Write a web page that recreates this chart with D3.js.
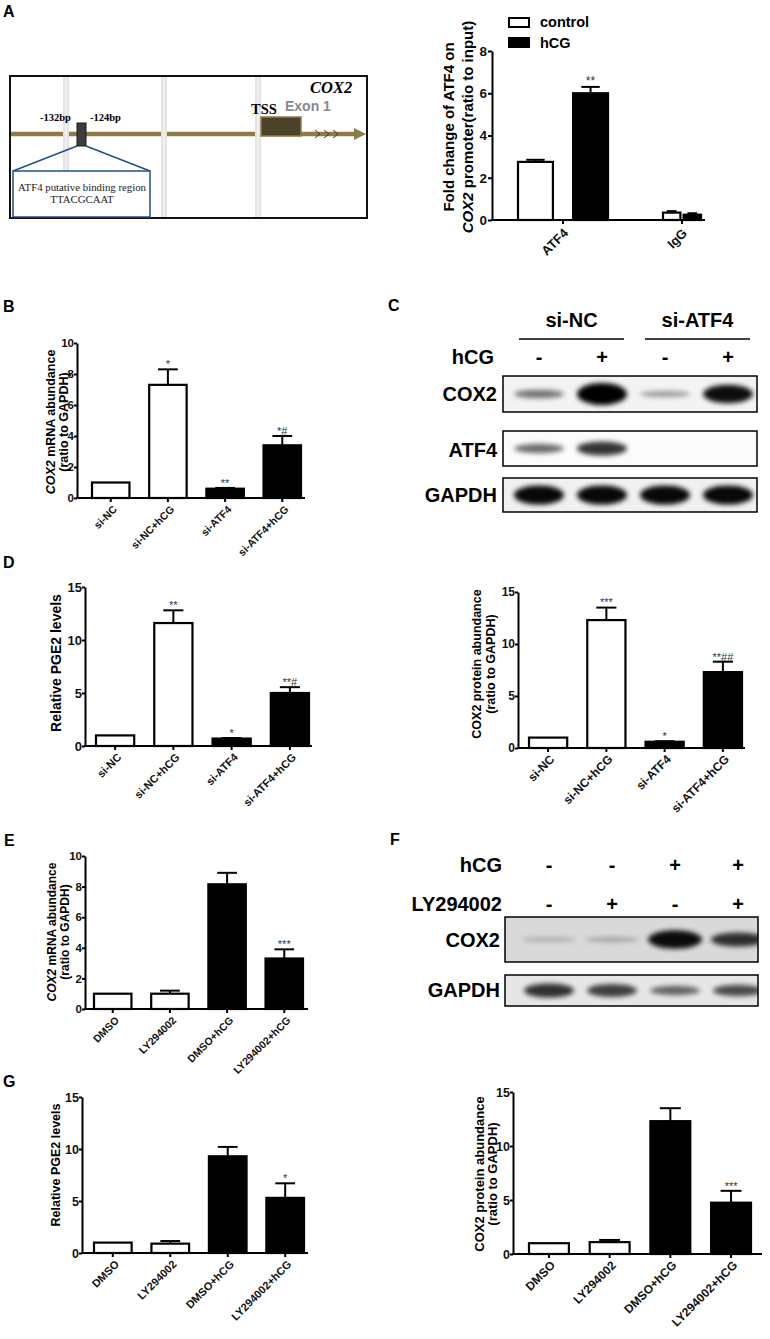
<!DOCTYPE html>
<html>
<head>
<meta charset="utf-8">
<script src="https://cdn.jsdelivr.net/npm/d3@7"></script>
<style>
  body { margin: 0; background: #fff; }
  svg { display: block; font-family: "Liberation Sans", Arial, sans-serif; }
</style>
</head>
<body>
<script>
// ---------- data ----------
// A: ChIP, fold change of ATF4 on COX2 promoter
const chipTargets = ["ATF4", "IgG"];
const chipSeries = ["control", "hCG"];
const chipControl = [2.75, 0.35];
const chipControlErr = [0.1, 0.07];
const chipHCG = [6.0, 0.25];
const chipHCGErr = [0.3, 0.07];
const chipMarks = [["", "**"], ["", ""]];
const chipTicks = [0, 2, 4, 6, 8];

// B, D: siRNA groups
const siGroups = ["si-NC", "si-NC+hCG", "si-ATF4", "si-ATF4+hCG"];
const siFill = ["#fff", "#fff", "#000", "#000"];
const mrnaB = [1, 7.3, 0.6, 3.4];
const mrnaBErr = [0, 1.0, 0.05, 0.6];
const mrnaBMarks = ["", "*", "**", "*#"];
const pgeD = [1, 11.6, 0.7, 5.0];
const pgeDErr = [0, 1.2, 0.05, 0.55];
const pgeDMarks = ["", "**", "*", "**#"];
const protD = [1, 12.3, 0.6, 7.3];
const protDErr = [0, 1.2, 0.05, 1.0];
const protDMarks = ["", "***", "*", "**##"];

// E, G: LY294002 groups
const lyGroups = ["DMSO", "LY294002", "DMSO+hCG", "LY294002+hCG"];
const lyFill = ["#fff", "#fff", "#000", "#000"];
const mrnaE = [1, 1.0, 8.15, 3.3];
const mrnaEErr = [0, 0.2, 0.75, 0.6];
const mrnaEMarks = ["", "", "", "***"];
const pgeG = [1, 0.9, 9.3, 5.3];
const pgeGErr = [0, 0.25, 0.9, 1.4];
const pgeGMarks = ["", "", "", "*"];
const protG = [1, 1.1, 12.3, 4.75];
const protGErr = [0, 0.2, 1.2, 1.1];
const protGMarks = ["", "", "", "***"];

const ticks10 = [0, 2, 4, 6, 8, 10];
const ticks15 = [0, 5, 10, 15];

// blots: relative band intensity per lane (0..1)
const lanes = ["1", "2", "3", "4"];
const blotCHcg = ["-", "+", "-", "+"];
const blotCCox2 = [0.5, 1.0, 0.35, 0.9];
const blotCAtf4 = [0.55, 0.75, 0, 0];
const blotCGapdh = [0.92, 0.92, 0.92, 0.92];
const blotFHcg = ["-", "-", "+", "+"];
const blotFLy = ["-", "+", "-", "+"];
const blotFCox2 = [0.2, 0.25, 0.9, 0.75];
const blotFGapdh = [0.75, 0.7, 0.55, 0.65];

// ---------- page ----------
const svg = d3.select("body").append("svg").attr("width", 770).attr("height", 1339);
svg.append("rect").attr("width", 770).attr("height", 1339).attr("fill", "#fff");
const defs = svg.append("defs");
const blur = defs.append("filter").attr("id", "blur")
  .attr("x", "-30%").attr("y", "-100%").attr("width", "160%").attr("height", "300%");
blur.append("feGaussianBlur").attr("stdDeviation", 2.6);

// panel letters
[["A", 3, 17], ["B", 3, 312], ["C", 388, 311], ["D", 3, 568], ["E", 4, 846], ["F", 390, 845], ["G", 3, 1087]]
  .forEach(d => svg.append("text").attr("x", d[1]).attr("y", d[2]).text(d[0])
    .attr("font-size", 16).attr("font-weight", "bold"));

function yLabel(cy, lines, size) {
  // lines: [{x, parts:[[text, italic]]}]
  lines.forEach(l => {
    const t = svg.append("text")
      .attr("transform", `translate(${l.x},${cy}) rotate(-90)`)
      .attr("text-anchor", "middle").attr("font-size", size).attr("font-weight", "bold");
    l.parts.forEach(p => t.append("tspan").text(p[0]).attr("font-style", p[1] ? "italic" : null));
  });
}

function styleAxis(g, size) {
  g.selectAll("path, line").attr("stroke", "#000").attr("stroke-width", 2);
  g.selectAll("text").attr("font-size", size).attr("font-weight", "bold").attr("fill", "#111")
    .attr("font-family", "Liberation Sans, Arial, sans-serif");
}

function barPanel(p) {
  const g = svg.append("g");
  const y = d3.scaleLinear().domain([0, p.max]).range([p.y0, p.yTop]);
  const x = d3.scaleBand().domain(p.groups).range(p.bars).paddingInner(0.31);
  const bw = x.bandwidth();

  const yg = g.append("g").attr("transform", `translate(${p.left},0)`)
    .call(d3.axisLeft(y).tickValues(p.ticks).tickSize(3).tickSizeOuter(0).tickPadding(0).tickFormat(d3.format("d")));
  styleAxis(yg, p.tickSize);

  const rows = p.groups.map((k, i) => ({ k, v: p.values[i], e: p.errors[i], f: p.fills[i], m: p.marks[i] }));

  // error bars (upward only)
  const eb = g.selectAll(".err").data(rows.filter(d => d.e > 0)).join("g");
  eb.append("line").attr("x1", d => x(d.k) + bw / 2).attr("x2", d => x(d.k) + bw / 2)
    .attr("y1", d => y(d.v)).attr("y2", d => y(d.v + d.e)).attr("stroke", "#000").attr("stroke-width", 2);
  eb.append("line").attr("x1", d => x(d.k) + bw * 0.25).attr("x2", d => x(d.k) + bw * 0.75)
    .attr("y1", d => y(d.v + d.e)).attr("y2", d => y(d.v + d.e)).attr("stroke", "#000").attr("stroke-width", 2);

  g.selectAll(".bar").data(rows).join("rect")
    .attr("x", d => x(d.k) + 1).attr("width", bw - 2)
    .attr("y", d => y(d.v)).attr("height", d => p.y0 - y(d.v))
    .attr("fill", d => d.f).attr("stroke", "#000").attr("stroke-width", 2.2);

  g.selectAll(".mark").data(rows.filter(d => d.m)).join("text")
    .attr("x", d => x(d.k) + bw / 2).attr("y", d => y(d.v + d.e) - 5 + p.markSize * 0.35)
    .attr("text-anchor", "middle").attr("font-size", p.markSize).attr("fill", "#333")
    .text(d => d.m);

  // x axis
  g.append("line").attr("x1", p.left - 1).attr("x2", p.right).attr("y1", p.y0).attr("y2", p.y0)
    .attr("stroke", "#000").attr("stroke-width", 2);
  g.selectAll(".xt").data(p.groups).join("line")
    .attr("x1", d => x(d) + bw / 2).attr("x2", d => x(d) + bw / 2)
    .attr("y1", p.y0).attr("y2", p.y0 + 4).attr("stroke", "#000").attr("stroke-width", 2);
  g.selectAll(".xl").data(p.groups).join("text")
    .attr("transform", d => `translate(${x(d) + bw / 2 + 7},${p.y0 + 12}) rotate(-45)`)
    .attr("text-anchor", "end").attr("font-size", p.xSize).attr("font-weight", "bold").attr("fill", "#111")
    .text(d => d);

  yLabel(p.labelY, p.label, p.labelSize);
}

// ---------- A: promoter diagram ----------
const dg = svg.append("g");
dg.append("line").attr("x1", 11).attr("x2", 356).attr("y1", 134).attr("y2", 134)
  .attr("stroke", "#8c7d48").attr("stroke-width", 4.5);
dg.append("path").attr("d", "M354,128 L366,134 L354,140 Z").attr("fill", "#8c7d48");
[318, 327, 336].forEach(cx => dg.append("path")
  .attr("d", `M${cx - 3},130 L${cx + 2},134 L${cx - 3},138`).attr("fill", "none")
  .attr("stroke", "#3a3a3a").attr("stroke-width", 1));
[66, 164, 258].forEach(cx => {
  dg.append("rect").attr("x", cx - 3).attr("y", 77).attr("width", 6).attr("height", 140).attr("fill", "#e3e3e3");
  dg.append("rect").attr("x", cx - 0.7).attr("y", 77).attr("width", 1.4).attr("height", 140).attr("fill", "#f6f6f6");
});
dg.append("rect").attr("x", 10).attr("y", 76).attr("width", 357).attr("height", 142)
  .attr("fill", "none").attr("stroke", "#111").attr("stroke-width", 2);
dg.append("rect").attr("x", 261).attr("y", 117).attr("width", 40).attr("height", 19)
  .attr("fill", "#4b4229").attr("stroke", "#8c7d48").attr("stroke-width", 1.5);
dg.append("text").attr("x", 251).attr("y", 114).text("TSS")
  .attr("font-family", "Liberation Serif, serif").attr("font-weight", "bold").attr("font-size", 14.5);
dg.append("text").attr("x", 285).attr("y", 111).text("Exon 1")
  .attr("font-weight", "bold").attr("font-size", 14).attr("fill", "#8a8a8a");
dg.append("text").attr("x", 310).attr("y", 93).text("COX2")
  .attr("font-family", "Liberation Serif, serif").attr("font-weight", "bold").attr("font-style", "italic").attr("font-size", 16.5);
dg.append("text").attr("x", 40).attr("y", 121).text("-132bp")
  .attr("font-family", "Liberation Serif, serif").attr("font-weight", "bold").attr("font-size", 10.5);
dg.append("text").attr("x", 90).attr("y", 121).text("-124bp")
  .attr("font-family", "Liberation Serif, serif").attr("font-weight", "bold").attr("font-size", 10.5);
dg.append("path").attr("d", "M77,146 L13,171 M86,146 L150,171").attr("stroke", "#1f4e8c").attr("stroke-width", 1.5);
dg.append("rect").attr("x", 77).attr("y", 123).attr("width", 9).attr("height", 23)
  .attr("fill", "#3c3c3c").attr("stroke", "#1a1a1a").attr("stroke-width", 1);
dg.append("rect").attr("x", 13).attr("y", 171).attr("width", 137).attr("height", 46)
  .attr("fill", "#fff").attr("stroke", "#1f4e8c").attr("stroke-width", 1.5);
dg.append("text").attr("x", 82).attr("y", 191).attr("text-anchor", "middle").text("ATF4 putative binding region")
  .attr("font-family", "Liberation Serif, serif").attr("font-size", 10.8).attr("fill", "#222");
dg.append("text").attr("x", 82).attr("y", 203).attr("text-anchor", "middle").text("TTACGCAAT")
  .attr("font-family", "Liberation Serif, serif").attr("font-size", 10.8).attr("fill", "#222");

// ---------- A: ChIP chart ----------
(function () {
  const left = 492, right = 705, y0 = 220;
  const g = svg.append("g");
  const y = d3.scaleLinear().domain([0, 8]).range([y0, 51]);
  const groupRange = { ATF4: [517, 609], IgG: [662, 702] };
  const inner = { ATF4: 0.33, IgG: 0.06 };
  const yg = g.append("g").attr("transform", `translate(${left},0)`)
    .call(d3.axisLeft(y).tickValues(chipTicks).tickSize(4).tickSizeOuter(0).tickPadding(1));
  styleAxis(yg, 13.5);
  const vals = [chipControl, chipHCG], errs = [chipControlErr, chipHCGErr];
  const rows = [];
  chipTargets.forEach((t, i) => {
    const x1 = d3.scaleBand().domain(chipSeries).range(groupRange[t]).paddingInner(inner[t]);
    chipSeries.forEach((s, j) => rows.push({ t, s, x: x1(s), w: x1.bandwidth(), v: vals[j][i], e: errs[j][i], m: chipMarks[i][j] }));
  });
  const eb = g.selectAll(".err").data(rows).join("g");
  eb.append("line").attr("x1", d => d.x + d.w / 2).attr("x2", d => d.x + d.w / 2)
    .attr("y1", d => y(d.v)).attr("y2", d => y(d.v + d.e)).attr("stroke", "#000").attr("stroke-width", 2);
  eb.append("line").attr("x1", d => d.x + d.w * 0.25).attr("x2", d => d.x + d.w * 0.75)
    .attr("y1", d => y(d.v + d.e)).attr("y2", d => y(d.v + d.e)).attr("stroke", "#000").attr("stroke-width", 2);
  g.selectAll(".bar").data(rows).join("rect")
    .attr("x", d => d.x + 1).attr("width", d => d.w - 2)
    .attr("y", d => y(d.v)).attr("height", d => y0 - y(d.v))
    .attr("fill", d => d.s === "hCG" ? "#000" : "#fff").attr("stroke", "#000").attr("stroke-width", 2.2);
  g.selectAll(".mark").data(rows.filter(d => d.m)).join("text")
    .attr("x", d => d.x + d.w / 2).attr("y", d => y(d.v + d.e) - 2)
    .attr("text-anchor", "middle").attr("font-size", 12).attr("fill", "#333").text(d => d.m);
  g.append("line").attr("x1", left - 1).attr("x2", right).attr("y1", y0).attr("y2", y0)
    .attr("stroke", "#000").attr("stroke-width", 2);
  const centers = chipTargets.map(t => (groupRange[t][0] + groupRange[t][1]) / 2);
  chipTargets.forEach((t, i) => {
    g.append("line").attr("x1", centers[i]).attr("x2", centers[i]).attr("y1", y0).attr("y2", y0 + 4)
      .attr("stroke", "#000").attr("stroke-width", 2);
    g.append("text").attr("transform", `translate(${centers[i] + 6},${y0 + 14}) rotate(-45)`)
      .attr("text-anchor", "end").attr("font-size", 13).attr("font-weight", "bold").attr("fill", "#111").text(t);
  });
  // legend
  chipSeries.forEach((s, j) => {
    g.append("rect").attr("x", 509).attr("y", 18 + j * 20).attr("width", 20).attr("height", 9)
      .attr("fill", j ? "#000" : "#fff").attr("stroke", "#000").attr("stroke-width", 2);
    g.append("text").attr("x", 540).attr("y", 27 + j * 20.5).text(s)
      .attr("font-size", 14.5).attr("font-weight", "bold");
  });
  yLabel(127, [
    { x: 454, parts: [["Fold change  of  ATF4 on", false]] },
    { x: 473, parts: [["COX2", true], [" promoter(ratio to input)", false]] }
  ], 15);
})();

// ---------- B ----------
barPanel({ left: 77, right: 305, y0: 498, yTop: 343, max: 10, ticks: ticks10, bars: [91, 302],
  groups: siGroups, values: mrnaB, errors: mrnaBErr, fills: siFill, marks: mrnaBMarks,
  tickSize: 11.5, xSize: 10.5, markSize: 11, labelSize: 12.5, labelY: 422,
  label: [{ x: 55, parts: [["COX2", true], [" mRNA abundance", false]] }, { x: 68, parts: [["(ratio to GAPDH)", false]] }] });

// ---------- D ----------
barPanel({ left: 85, right: 312, y0: 746, yTop: 587, max: 15, ticks: ticks15, bars: [95, 310],
  groups: siGroups, values: pgeD, errors: pgeDErr, fills: siFill, marks: pgeDMarks,
  tickSize: 13, xSize: 11, markSize: 11, labelSize: 14, labelY: 663,
  label: [{ x: 61, parts: [["Relative PGE2 levels", false]] }] });
barPanel({ left: 518, right: 745, y0: 748, yTop: 592, max: 15, ticks: ticks15, bars: [528, 743],
  groups: siGroups, values: protD, errors: protDErr, fills: siFill, marks: protDMarks,
  tickSize: 12, xSize: 12, markSize: 11, labelSize: 12.5, labelY: 664,
  label: [{ x: 481, parts: [["COX2 protein abundance", false]] }, { x: 495, parts: [["(ratio to GAPDH)", false]] }] });

// ---------- E ----------
barPanel({ left: 85, right: 308, y0: 1009, yTop: 856, max: 10, ticks: ticks10, bars: [93, 304],
  groups: lyGroups, values: mrnaE, errors: mrnaEErr, fills: lyFill, marks: mrnaEMarks,
  tickSize: 11.5, xSize: 10.5, markSize: 11, labelSize: 12, labelY: 932,
  label: [{ x: 56, parts: [["COX2", true], ["  mRNA abundance", false]] }, { x: 69, parts: [["(ratio to GAPDH)", false]] }] });

// ---------- G ----------
barPanel({ left: 82, right: 308, y0: 1253, yTop: 1097, max: 15, ticks: ticks15, bars: [93, 305],
  groups: lyGroups, values: pgeG, errors: pgeGErr, fills: lyFill, marks: pgeGMarks,
  tickSize: 12.5, xSize: 11, markSize: 11, labelSize: 12.5, labelY: 1165,
  label: [{ x: 60, parts: [["Relative PGE2 levels", false]] }] });
barPanel({ left: 513, right: 762, y0: 1254, yTop: 1092, max: 15, ticks: ticks15, bars: [528, 752],
  groups: lyGroups, values: protG, errors: protGErr, fills: lyFill, marks: protGMarks,
  tickSize: 12.5, xSize: 12, markSize: 11, labelSize: 13, labelY: 1174,
  label: [{ x: 484, parts: [["COX2 protein abundance", false]] }, { x: 497, parts: [["(ratio to GAPDH)", false]] }] });

// ---------- blots ----------
let clipN = 0;
function blot(lane, x0, x1, top, bottom, inten, bg, rx) {
  const id = "clip" + (clipN++);
  defs.append("clipPath").attr("id", id).append("rect")
    .attr("x", x0).attr("y", top).attr("width", x1 - x0).attr("height", bottom - top);
  svg.append("rect").attr("x", x0).attr("y", top).attr("width", x1 - x0).attr("height", bottom - top).attr("fill", bg);
  const cy = (top + bottom) / 2;
  svg.append("g").attr("clip-path", `url(#${id})`).selectAll("ellipse")
    .data(lanes.map((k, i) => ({ k, v: inten[i] })).filter(d => d.v > 0)).join("ellipse")
    .attr("cx", d => lane(d.k)).attr("cy", cy).attr("rx", rx).attr("ry", d => 2 + 9 * d.v * d.v)
    .attr("fill", "#000").attr("opacity", d => Math.min(1, d.v * 1.05)).attr("filter", "url(#blur)");
  svg.append("rect").attr("x", x0).attr("y", top).attr("width", x1 - x0).attr("height", bottom - top)
    .attr("fill", "none").attr("stroke", "#000").attr("stroke-width", 1.5);
}
function rowLabel(x, y, t) {
  svg.append("text").attr("x", x).attr("y", y).attr("text-anchor", "end").text(t)
    .attr("font-size", 20).attr("font-weight", "bold");
}

// C
(function () {
  const lane = d3.scalePoint().domain(lanes).range([539, 728]);
  [["si-NC", 519, 624], ["si-ATF4", 645, 750]].forEach(d => {
    svg.append("text").attr("x", (d[1] + d[2]) / 2).attr("y", 327).attr("text-anchor", "middle").text(d[0])
      .attr("font-size", 20).attr("font-weight", "bold");
    svg.append("line").attr("x1", d[1]).attr("x2", d[2]).attr("y1", 339).attr("y2", 339)
      .attr("stroke", "#000").attr("stroke-width", 1.5);
  });
  rowLabel(494, 364, "hCG");
  lanes.forEach((k, i) => svg.append("text").attr("x", lane(k)).attr("y", 364).attr("text-anchor", "middle")
    .text(blotCHcg[i]).attr("font-size", 20).attr("font-weight", "bold"));
  blot(lane, 503, 757, 376, 412, blotCCox2, "#f3f3f3", 25);
  rowLabel(497, 401, "COX2");
  blot(lane, 503, 757, 431, 466, blotCAtf4, "#fbfbfb", 25);
  rowLabel(497, 457, "ATF4");
  blot(lane, 503, 757, 478, 512, blotCGapdh, "#f0f0f0", 25);
  rowLabel(497, 502, "GAPDH");
})();

// F
(function () {
  const lane = d3.scalePoint().domain(lanes).range([549, 738]);
  rowLabel(502, 872, "hCG");
  rowLabel(502, 911, "LY294002");
  lanes.forEach((k, i) => {
    svg.append("text").attr("x", lane(k)).attr("y", 872).attr("text-anchor", "middle")
      .text(blotFHcg[i]).attr("font-size", 20).attr("font-weight", "bold");
    svg.append("text").attr("x", lane(k)).attr("y", 911).attr("text-anchor", "middle")
      .text(blotFLy[i]).attr("font-size", 20).attr("font-weight", "bold");
  });
  blot(lane, 505, 758, 917, 962, blotFCox2, "#d9d9d9", 27);
  rowLabel(500, 947, "COX2");
  blot(lane, 505, 758, 975, 1006, blotFGapdh, "#e6e6e6", 25);
  rowLabel(500, 997, "GAPDH");
})();
</script>
</body>
</html>
